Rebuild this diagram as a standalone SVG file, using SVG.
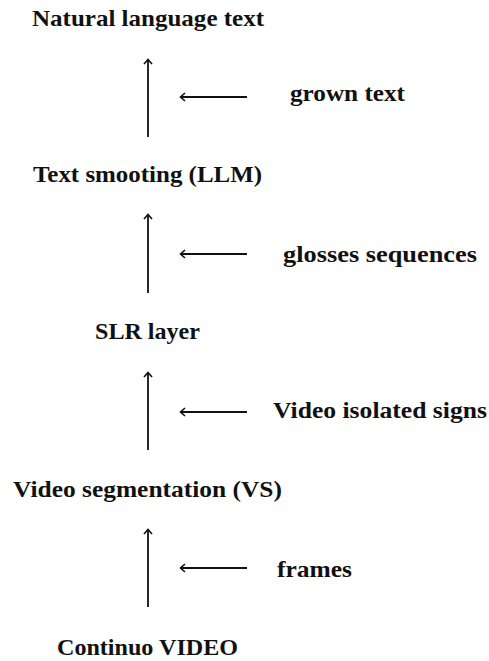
<svg xmlns="http://www.w3.org/2000/svg" width="489" height="661" viewBox="0 0 489 661">
<defs>
<style>
.t{font-family:"Liberation Serif","DejaVu Serif",serif;font-weight:bold;font-size:24px;fill:#111}
.c{stroke:#111;stroke-width:1.8;fill:none}
</style>
<marker id="ah" markerWidth="10" markerHeight="10" refX="8" refY="5" orient="auto" markerUnits="userSpaceOnUse">
<path d="M4,1 L8.5,5 L4,9" fill="none" stroke="#111" stroke-width="1.6"/>
</marker>
</defs>
<rect width="489" height="661" fill="#fff"/>
<g id="n-natural"><text class="t" x="32" y="26" textLength="232" lengthAdjust="spacingAndGlyphs">Natural language text</text></g>
<g id="n-grown"><text class="t" x="290" y="101" textLength="115" lengthAdjust="spacingAndGlyphs">grown text</text></g>
<g id="n-smooth"><text class="t" x="33" y="182" textLength="229" lengthAdjust="spacingAndGlyphs">Text smooting (LLM)</text></g>
<g id="n-gloss"><text class="t" x="283" y="262" textLength="194" lengthAdjust="spacingAndGlyphs">glosses sequences</text></g>
<g id="n-slr"><text class="t" x="95" y="339" textLength="105" lengthAdjust="spacingAndGlyphs">SLR layer</text></g>
<g id="n-isolated"><text class="t" x="273" y="418" textLength="214" lengthAdjust="spacingAndGlyphs">Video isolated signs</text></g>
<g id="n-vs"><text class="t" x="13" y="497" textLength="269" lengthAdjust="spacingAndGlyphs">Video segmentation (VS)</text></g>
<g id="n-frames"><text class="t" x="277" y="577" textLength="75" lengthAdjust="spacingAndGlyphs">frames</text></g>
<g id="n-video"><text class="t" x="57" y="655" textLength="181" lengthAdjust="spacingAndGlyphs">Continuo VIDEO</text></g>
<g id="connectors">
<line class="c" x1="148" y1="137" x2="148" y2="60" marker-end="url(#ah)"/>
<line class="c" x1="247" y1="97" x2="181" y2="97" marker-end="url(#ah)"/>
<line class="c" x1="148" y1="293" x2="148" y2="215" marker-end="url(#ah)"/>
<line class="c" x1="247" y1="254" x2="181" y2="254" marker-end="url(#ah)"/>
<line class="c" x1="148" y1="450" x2="148" y2="373" marker-end="url(#ah)"/>
<line class="c" x1="247" y1="412" x2="181" y2="412" marker-end="url(#ah)"/>
<line class="c" x1="148" y1="607" x2="148" y2="530" marker-end="url(#ah)"/>
<line class="c" x1="247" y1="568" x2="181" y2="568" marker-end="url(#ah)"/>
</g>
</svg>
